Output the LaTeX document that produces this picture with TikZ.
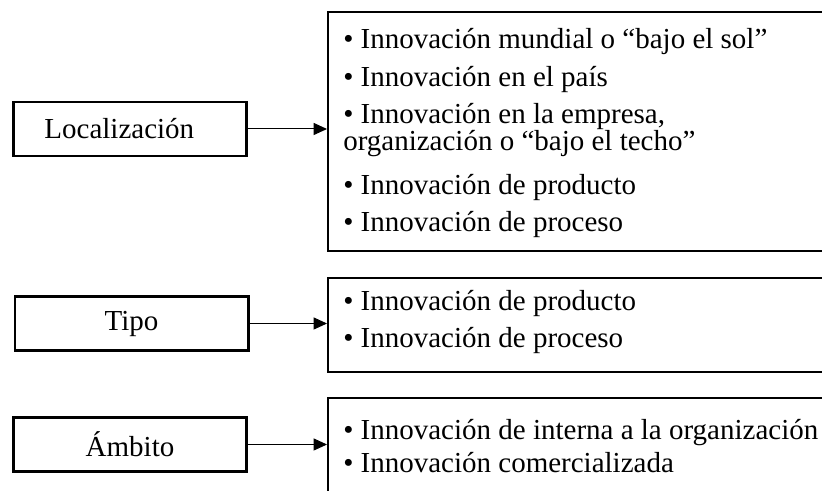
\documentclass[tikz,border=0pt]{standalone}
\usepackage{fontspec}
\setmainfont{Liberation Serif}
\usetikzlibrary{arrows.meta}

\begin{document}
\begin{tikzpicture}[x=0.75pt,y=-0.75pt,
	caja/.style={draw,line width=2pt,minimum width=175pt,minimum height=40.5pt,inner sep=0pt,font=\fontsize{21.75}{26}\selectfont},
	borde/.style={line width=2pt},
	linea/.style={anchor=base west,inner sep=0pt,font=\fontsize{21.75}{26}\selectfont},
	flecha/.style={line width=0.75pt,-{Triangle[length=10pt,width=9pt]}}]

	\useasboundingbox (0,0) rectangle (822,491);

	% cajas de la izquierda
	\node[caja] (loc) at (130,129) {Localización\hspace*{16pt}};
	\node[caja] (tipo) at (131.5,323.5) {Tipo};
	\node[caja] (ambito) at (130,444.5) {Ámbito};

	% cajas abiertas de la derecha
	\draw[borde] (823,12) -- (328,12) -- (328,251) -- (823,251);
	\draw[borde] (823,278) -- (328,278) -- (328,372) -- (823,372);
	\draw[borde] (823,398) -- (328,398) -- (328,492);

	\coordinate (locin) at (327,129);
	\coordinate (tipoin) at (327,323.5);
	\coordinate (ambitoin) at (327,444.5);

	\foreach \t/\y [count=\i] in {{• Innovación mundial o “bajo el sol”}/49,
		{• Innovación en el país}/87,
		{• Innovación en la empresa,}/124,
		{organización o “bajo el techo”}/151,
		{• Innovación de producto}/195,
		{• Innovación de proceso}/232}
	{
		\node[linea] (l\i) at (343,\y) {\t};
	}
	\foreach \t/\y [count=\i] in {{• Innovación de producto}/311,
		{• Innovación de proceso}/348}
	{
		\node[linea] (t\i) at (343,\y) {\t};
	}
	\foreach \t/\y [count=\i] in {{• Innovación de interna a la organización}/440,
		{• Innovación comercializada}/473}
	{
		\node[linea] (a\i) at (343,\y) {\t};
	}

	\draw[flecha] (loc.east) -- (locin);
	\draw[flecha] (tipo.east) -- (tipoin);
	\draw[flecha] (ambito.east) -- (ambitoin);
\end{tikzpicture}
\end{document}
